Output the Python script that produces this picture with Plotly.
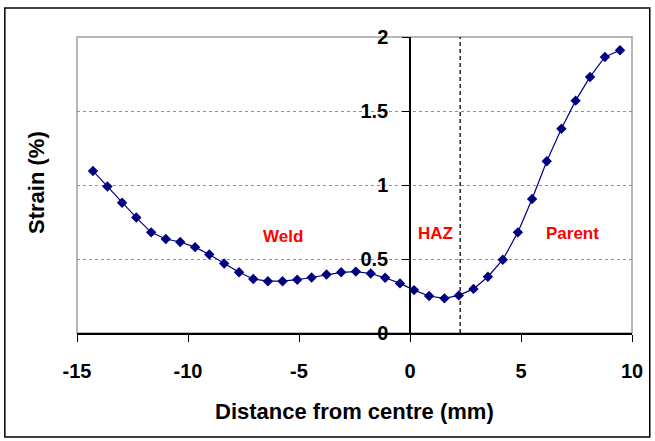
import plotly.graph_objects as go

# Strain profile across the weld
distance_mm = [-14.28, -13.63, -12.97, -12.33, -11.66, -11.00, -10.35, -9.68, -9.04, -8.37,
               -7.70, -7.06, -6.40, -5.74, -5.08, -4.43, -3.76, -3.10, -2.44, -1.77,
               -1.12, -0.45, 0.18, 0.86, 1.55, 2.20, 2.86, 3.51, 4.18, 4.86,
               5.50, 6.16, 6.82, 7.46, 8.11, 8.78, 9.46]
strain_pct = [1.095, 0.99, 0.88, 0.78, 0.68, 0.635, 0.615, 0.58, 0.53, 0.47,
              0.41, 0.365, 0.35, 0.35, 0.36, 0.375, 0.395, 0.41, 0.415, 0.402,
              0.373, 0.335, 0.29, 0.25, 0.234, 0.254, 0.298, 0.38, 0.495, 0.68,
              0.905, 1.16, 1.38, 1.57, 1.73, 1.865, 1.91]

haz_boundary = 2.26
zone_labels = ["Weld", "HAZ", "Parent"]
zone_x = [-5.7, 1.15, 7.3]
zone_y = [0.65, 0.67, 0.67]

x_ticks = [-15, -10, -5, 0, 5, 10]
y_ticks = [0, 0.5, 1, 1.5, 2]

FONT = "Liberation Sans, Arial, sans-serif"
NAVY = "#000080"

fig = go.Figure()
fig.add_trace(go.Scatter(
    x=distance_mm, y=strain_pct, mode="lines+markers",
    line=dict(color=NAVY, width=1.2),
    marker=dict(symbol="diamond", size=8, color=NAVY),
    showlegend=False, cliponaxis=False,
))

# HAZ / parent boundary
fig.add_shape(type="line", xref="x", yref="y", x0=haz_boundary, x1=haz_boundary, y0=0, y1=2,
              line=dict(color="black", width=1.3, dash="4px,3px"))

# grey plot-area frame
fig.add_shape(type="rect", xref="paper", yref="paper", x0=0, x1=1, y0=0, y1=1,
              line=dict(color="#a0a0a0", width=1.5), layer="below")

# outer chart border
fig.add_shape(type="rect", xref="paper", yref="paper", x0=-0.13, x1=1.032, y0=-0.351, y1=1.098,
              line=dict(color="black", width=1.5))

for label, zx, zy in zip(zone_labels, zone_x, zone_y):
    fig.add_annotation(x=zx, y=zy, xref="x", yref="y", text=label, showarrow=False,
                       font=dict(family=FONT, size=17, color="#ff0000", weight="bold"))

fig.add_annotation(x=0.5, y=-0.265, xref="paper", yref="paper", text="Distance from centre (mm)",
                   xanchor="center", yanchor="middle", showarrow=False,
                   font=dict(family=FONT, size=22, color="black", weight="bold"))
fig.add_annotation(x=-0.074, y=0.51, xref="paper", yref="paper", text="Strain (%)", textangle=-90,
                   xanchor="center", yanchor="middle", showarrow=False,
                   font=dict(family=FONT, size=22, color="black", weight="bold"))

fig.update_layout(
    width=655, height=441,
    margin=dict(l=77, r=23, t=37, b=108),
    paper_bgcolor="white", plot_bgcolor="white",
    xaxis=dict(range=[-15, 10], tickvals=x_ticks, ticktext=[str(v) for v in x_ticks],
               showgrid=False, zeroline=False, showline=True, linecolor="black", linewidth=1.5,
               ticks="outside", ticklen=7, tickcolor="black", tickwidth=1,
               ticklabelstandoff=12,
               tickfont=dict(family=FONT, size=20, color="black", weight="bold")),
    yaxis=dict(range=[0, 2], tickvals=y_ticks, ticktext=["0", "0.5", "1", "1.5", "2"],
               anchor="free", position=0.6,
               showgrid=True, gridcolor="#909090", griddash="dot", gridwidth=1,
               zeroline=False, showline=True, linecolor="black", linewidth=1.5,
               ticks="outside", ticklen=7, tickcolor="black", tickwidth=1,
               ticklabelstandoff=10,
               tickfont=dict(family=FONT, size=20, color="black", weight="bold")),
)

fig.write_html("out.html")
